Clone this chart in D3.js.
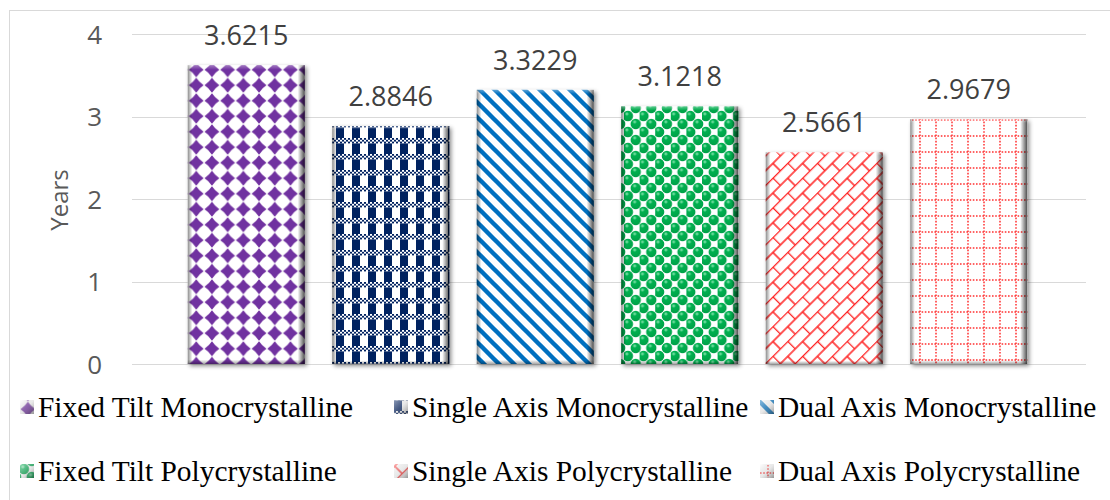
<!DOCTYPE html>
<html>
<head>
<meta charset="utf-8">
<script src="https://cdn.jsdelivr.net/npm/d3@7"></script>
<style>
  html, body { margin: 0; padding: 0; background: #ffffff; }
  svg { display: block; }
</style>
</head>
<body>
<svg id="chart" width="1110" height="500"></svg>
<script>
// Payback period of PV configurations (years)
const categories = [
  "Fixed Tilt Monocrystalline",
  "Single Axis Monocrystalline",
  "Dual Axis Monocrystalline",
  "Fixed Tilt Polycrystalline",
  "Single Axis Polycrystalline",
  "Dual Axis Polycrystalline"
];
const values = [3.6215, 2.8846, 3.3229, 3.1218, 2.5661, 2.9679];
const yTicks = [0, 1, 2, 3, 4];
const patternIds = ["pDiamond", "pPlaid", "pStripe", "pSphere", "pBrick", "pDotGrid"];

const svg = d3.select("#chart");
const defs = svg.append("defs");

// ---- fill patterns ----
// purple diamonds
{
  const p = defs.append("pattern").attr("id", "pDiamond")
    .attr("patternUnits", "userSpaceOnUse").attr("width", 15.7).attr("height", 15.5);
  p.append("rect").attr("width", 15.7).attr("height", 15.5).attr("fill", "#fff");
  const c = [7.85, 7.75], r = 7.4, k = 2.9;
  p.append("path").attr("fill", "#7030a0")
    .attr("d", `M${c[0]},${c[1]-r} Q${c[0]+k},${c[1]-k} ${c[0]+r},${c[1]} Q${c[0]+k},${c[1]+k} ${c[0]},${c[1]+r} Q${c[0]-k},${c[1]+k} ${c[0]-r},${c[1]} Q${c[0]-k},${c[1]-k} ${c[0]},${c[1]-r}Z`);
}
// navy plaid
{
  const p = defs.append("pattern").attr("id", "pPlaid")
    .attr("patternUnits", "userSpaceOnUse").attr("width", 16).attr("height", 16);
  p.append("rect").attr("width", 16).attr("height", 16).attr("fill", "#fff");
  p.append("rect").attr("x", 0).attr("width", 8).attr("height", 16).attr("fill", "#002060");
  p.append("rect").attr("y", 10).attr("width", 16).attr("height", 5.4).attr("fill", "#fff");
  for (let i = 0; i < 8; i++) {
    for (let j = 0; j < 3; j++) {
      if ((i + j) % 2 === 0) {
        p.append("rect").attr("x", i * 2).attr("y", 10 + j * 1.8).attr("width", 2).attr("height", 1.8)
          .attr("fill", "#002060");
      }
    }
  }
}
// blue diagonal stripes, running from upper left to lower right
{
  const s = 15;
  const p = defs.append("pattern").attr("id", "pStripe")
    .attr("patternUnits", "userSpaceOnUse").attr("width", s).attr("height", s);
  p.append("rect").attr("width", s).attr("height", s).attr("fill", "#fff");
  p.append("path")
    .attr("d", `M-3,-3 L${s + 3},${s + 3} M${s - 3},-3 L${s + 3},3 M-3,${s - 3} L3,${s + 3}`)
    .attr("stroke", "#0070c0").attr("stroke-width", 4.4).attr("fill", "none");
}
// green spheres
{
  const p = defs.append("pattern").attr("id", "pSphere")
    .attr("patternUnits", "userSpaceOnUse").attr("width", 15.6).attr("height", 16);
  p.append("rect").attr("width", 15.6).attr("height", 16).attr("fill", "#fff");
  const g = defs.append("radialGradient").attr("id", "gSphere")
    .attr("cx", "40%").attr("cy", "30%").attr("r", "70%");
  g.append("stop").attr("offset", "0%").attr("stop-color", "#8fe8b4");
  g.append("stop").attr("offset", "30%").attr("stop-color", "#00b050");
  g.append("stop").attr("offset", "100%").attr("stop-color", "#00a048");
  [[3.9, 4], [11.7, 12], [-3.9, 12], [19.5, 12], [3.9, 20], [11.7, -4]].forEach(([x, y]) => {
    p.append("circle").attr("cx", x).attr("cy", y).attr("r", 5.2).attr("fill", "url(#gSphere)");
  });
}
// red diagonal brick
{
  const p = defs.append("pattern").attr("id", "pBrick")
    .attr("patternUnits", "userSpaceOnUse").attr("width", 21).attr("height", 21)
    .attr("patternTransform", "rotate(-45)");
  p.append("rect").attr("width", 21).attr("height", 21).attr("fill", "#fff");
  const ln = (x1, y1, x2, y2) => p.append("line").attr("x1", x1).attr("y1", y1).attr("x2", x2).attr("y2", y2)
    .attr("stroke", "#ff2020").attr("stroke-width", 1.5);
  ln(0, 0.5, 21, 0.5);
  ln(0, 11, 21, 11);
  ln(0.5, 0, 0.5, 11);
  ln(11, 11, 11, 21);
}
// red dotted grid
{
  const p = defs.append("pattern").attr("id", "pDotGrid")
    .attr("patternUnits", "userSpaceOnUse").attr("width", 16).attr("height", 16);
  p.append("rect").attr("width", 16).attr("height", 16).attr("fill", "#fff");
  p.append("line").attr("x1", 8).attr("y1", 0).attr("x2", 8).attr("y2", 16)
    .attr("stroke", "#ff3030").attr("stroke-width", 1.5).attr("stroke-dasharray", "1.6 1.6");
  p.append("line").attr("x1", 0).attr("y1", 8).attr("x2", 16).attr("y2", 8)
    .attr("stroke", "#ff3030").attr("stroke-width", 1.5).attr("stroke-dasharray", "1.6 1.6");
}

// bevel overlay for bars and legend keys
{
  const g = defs.append("linearGradient").attr("id", "bevelH").attr("x1", 0).attr("x2", 1).attr("y1", 0).attr("y2", 0);
  g.append("stop").attr("offset", "0%").attr("stop-color", "#000").attr("stop-opacity", 0.45);
  g.append("stop").attr("offset", "4%").attr("stop-color", "#000").attr("stop-opacity", 0.0);
  g.append("stop").attr("offset", "94%").attr("stop-color", "#000").attr("stop-opacity", 0.0);
  g.append("stop").attr("offset", "100%").attr("stop-color", "#000").attr("stop-opacity", 0.7);
  const v = defs.append("linearGradient").attr("id", "bevelV").attr("x1", 0).attr("x2", 0).attr("y1", 0).attr("y2", 1);
  v.append("stop").attr("offset", "0%").attr("stop-color", "#fff").attr("stop-opacity", 0.35);
  v.append("stop").attr("offset", "1.5%").attr("stop-color", "#fff").attr("stop-opacity", 0.0);
  v.append("stop").attr("offset", "98.5%").attr("stop-color", "#000").attr("stop-opacity", 0.0);
  v.append("stop").attr("offset", "100%").attr("stop-color", "#000").attr("stop-opacity", 0.35);
  const kg = defs.append("linearGradient").attr("id", "keyBevel").attr("x1", 0).attr("x2", 1).attr("y1", 0).attr("y2", 1);
  kg.append("stop").attr("offset", "0%").attr("stop-color", "#ffffff").attr("stop-opacity", 0.55);
  kg.append("stop").attr("offset", "50%").attr("stop-color", "#bfbfbf").attr("stop-opacity", 0.35);
  kg.append("stop").attr("offset", "100%").attr("stop-color", "#404040").attr("stop-opacity", 0.55);
  const f = defs.append("filter").attr("id", "shadow").attr("x", "-20%").attr("y", "-20%").attr("width", "140%").attr("height", "140%");
  f.append("feDropShadow").attr("dx", 2).attr("dy", 2).attr("stdDeviation", 2.2)
    .attr("flood-color", "#000").attr("flood-opacity", 0.45);
}

// ---- frame ----
svg.append("rect").attr("x", 9.5).attr("y", 10.5).attr("width", 1115).attr("height", 500)
  .attr("fill", "none").attr("stroke", "#d9d9d9").attr("stroke-width", 1);

// ---- scales ----
const y = d3.scaleLinear().domain([0, 4]).range([364, 34]);
const x = d3.scaleBand().domain(categories).range([174, 1041]).paddingInner(0.19).paddingOuter(0.095);
const gridX0 = 132, gridX1 = 1086;

// gridlines
svg.append("g").selectAll("line").data(yTicks).join("line")
  .attr("x1", gridX0).attr("x2", gridX1)
  .attr("y1", d => Math.round(y(d)) + 0.5).attr("y2", d => Math.round(y(d)) + 0.5)
  .attr("stroke", "#d9d9d9").attr("stroke-width", 1);

// y axis labels
const yAxis = d3.axisLeft(y).tickValues(yTicks).tickSize(0).tickPadding(0).tickFormat(d3.format("d"));
const yg = svg.append("g").attr("transform", "translate(102,0)").call(yAxis);
yg.select(".domain").remove();
yg.selectAll("text").attr("font-family", "'Open Sans', sans-serif").attr("font-size", 26)
  .attr("fill", "#595959").attr("dy", "0.35em");

svg.append("text").attr("transform", "translate(68,200) rotate(-90)")
  .attr("text-anchor", "middle").attr("font-family", "'Open Sans', sans-serif")
  .attr("font-size", 24).attr("fill", "#595959").text("Years");

// ---- bars ----
const bars = svg.append("g").selectAll("g").data(categories).join("g");
bars.append("rect")
  .attr("x", d => x(d)).attr("y", (d, i) => y(values[i]))
  .attr("width", x.bandwidth()).attr("height", (d, i) => y(0) - y(values[i]))
  .attr("fill", (d, i) => `url(#${patternIds[i]})`)
  .attr("filter", "url(#shadow)");
bars.append("rect")
  .attr("x", d => x(d)).attr("y", (d, i) => y(values[i]))
  .attr("width", x.bandwidth()).attr("height", (d, i) => y(0) - y(values[i]))
  .attr("fill", "url(#bevelH)");
bars.append("rect")
  .attr("x", d => x(d)).attr("y", (d, i) => y(values[i]))
  .attr("width", x.bandwidth()).attr("height", (d, i) => y(0) - y(values[i]))
  .attr("fill", "url(#bevelV)");

// value labels
svg.append("g").selectAll("text").data(categories).join("text")
  .attr("x", d => x(d) + x.bandwidth() / 2)
  .attr("y", (d, i) => y(values[i]) - 20)
  .attr("text-anchor", "middle")
  .attr("font-family", "'Open Sans', sans-serif").attr("font-size", 27)
  .attr("fill", "#404040")
  .text((d, i) => values[i].toFixed(4));

// ---- legend ----
const legCols = [20, 394, 760];
const legRows = [417, 481];
const leg = svg.append("g").selectAll("g").data(categories).join("g")
  .attr("transform", (d, i) => `translate(${legCols[i % 3]},${legRows[Math.floor(i / 3)]})`);
leg.append("rect").attr("x", 0).attr("y", -17).attr("width", 14).attr("height", 14)
  .attr("fill", (d, i) => `url(#${patternIds[i]})`);
leg.append("rect").attr("x", 0).attr("y", -17).attr("width", 14).attr("height", 14)
  .attr("fill", "url(#keyBevel)");
leg.append("text").attr("x", 18).attr("y", 0)
  .attr("font-family", "'Liberation Serif', 'Times New Roman', serif").attr("font-size", 29.4)
  .attr("fill", "#000").text(d => d);
</script>
</body>
</html>
